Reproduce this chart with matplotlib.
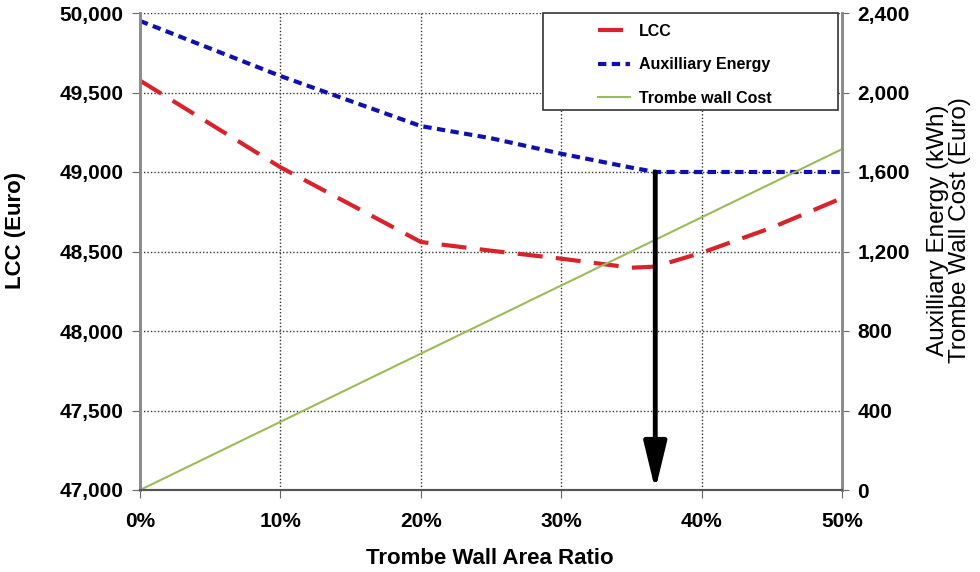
import numpy as np
import matplotlib
matplotlib.use("Agg")
import matplotlib.pyplot as plt
from matplotlib.patches import Rectangle
from matplotlib.ticker import FuncFormatter

plt.rcParams['font.family'] = ['Liberation Sans', 'DejaVu Sans']

# data (ratio in %)
ratio = [0, 10, 20, 25, 30, 35, 36.7, 40, 45, 50]
lcc = [49575, 49030, 48560, 48505, 48455, 48398, 48405, 48492, 48650, 48836]
aux_ratio = [0, 10, 20, 25, 30, 35, 36.7, 40, 45, 50]
aux_energy = [2360, 2083, 1831, 1770, 1692, 1622, 1600, 1600, 1600, 1600]
wall_ratio = [0, 10, 20, 30, 40, 50]
wall_cost = [0, 343, 686, 1029, 1372, 1715]

x_ticks = [0, 10, 20, 30, 40, 50]
lcc_ticks = [47000, 47500, 48000, 48500, 49000, 49500, 50000]
right_ticks = [0, 400, 800, 1200, 1600, 2000, 2400]

fig = plt.figure(figsize=(9.8, 5.72), dpi=100)
ax = fig.add_axes([140/980, 1-490/572, (842-140)/980, (490-13)/572])
ax2 = ax.twinx()

l1, = ax.plot(ratio, lcc, color='#d8232a', lw=3, dashes=(6, 3.2), label='LCC')
l2, = ax2.plot(aux_ratio, aux_energy, color='#1010b0', lw=3, dashes=(2, 1.3),
               label='Auxilliary Energy')
l3, = ax2.plot(wall_ratio, wall_cost, color='#9bbb59', lw=1.5,
               label='Trombe wall Cost')

# arrow at the point where auxiliary energy stops dropping
i_opt = int(np.argmin(aux_energy))
ax2.annotate('', xy=(aux_ratio[i_opt], 0), xytext=(aux_ratio[i_opt], aux_energy[i_opt]),
             arrowprops=dict(arrowstyle='-|>,head_length=2.9,head_width=0.7',
                             color='black', lw=3.5, shrinkA=0, shrinkB=0))

ax.set_xlim(0, 50)
ax.set_ylim(47000, 50000)
ax2.set_ylim(0, 2400)
ax.set_xticks(x_ticks)
ax.set_yticks(lcc_ticks)
ax2.set_yticks(right_ticks)
ax.xaxis.set_major_formatter(FuncFormatter(lambda v, p: f'{v:.0f}%'))
ax.yaxis.set_major_formatter(FuncFormatter(lambda v, p: f'{v:,.0f}'))
ax2.yaxis.set_major_formatter(FuncFormatter(lambda v, p: f'{v:,.0f}'))

ax.grid(True, color='#333333', ls=(0, (1, 1.5)), lw=1)
for a in (ax, ax2):
    a.spines['top'].set_visible(False)
    a.spines['left'].set_color('#8c8c8c')
    a.spines['left'].set_linewidth(2)
    a.spines['right'].set_color('#8c8c8c')
    a.spines['right'].set_linewidth(2)
    a.spines['bottom'].set_color('#555555')
    a.spines['bottom'].set_linewidth(1.5)

ax.tick_params(axis='y', direction='out', length=6, color='#666666', pad=6)
ax.tick_params(axis='x', direction='out', length=6, color='#666666', pad=10)
ax2.tick_params(axis='y', direction='out', length=5, color='#666666', pad=6)
for lab in ax.get_xticklabels() + ax.get_yticklabels() + ax2.get_yticklabels():
    lab.set_fontsize(15)
    lab.set_fontweight('bold')

fig.text(490/980, 1-558/572, 'Trombe Wall Area Ratio', fontsize=16,
         fontweight='bold', ha='center', va='center')
fig.text(16/980, 1-230/572, 'LCC (Euro)', fontsize=16, fontweight='bold',
         rotation=90, ha='center', va='center')
fig.text(949/980, 1-230/572, 'Auxilliary Energy (kWh)\nTrombe Wall Cost (Euro)',
         fontsize=17.5, rotation=90, ha='center', va='center', linespacing=0.95,
         multialignment='center')

# legend box
ax2.add_patch(Rectangle((0.574, 0.797), 0.42, 0.203, transform=ax2.transAxes,
                        facecolor='white', edgecolor='#333333', lw=1.2,
                        zorder=1, clip_on=False))
ax2.legend(handles=[l1, l2, l3], loc='upper left', bbox_to_anchor=(0.652, 0.977),
           frameon=False, prop={'size': 11.5, 'weight': 'bold'}, handlelength=2.0,
           borderpad=0, labelspacing=1.15, handletextpad=0.6, borderaxespad=0)

fig.savefig('out.png', dpi=100)
